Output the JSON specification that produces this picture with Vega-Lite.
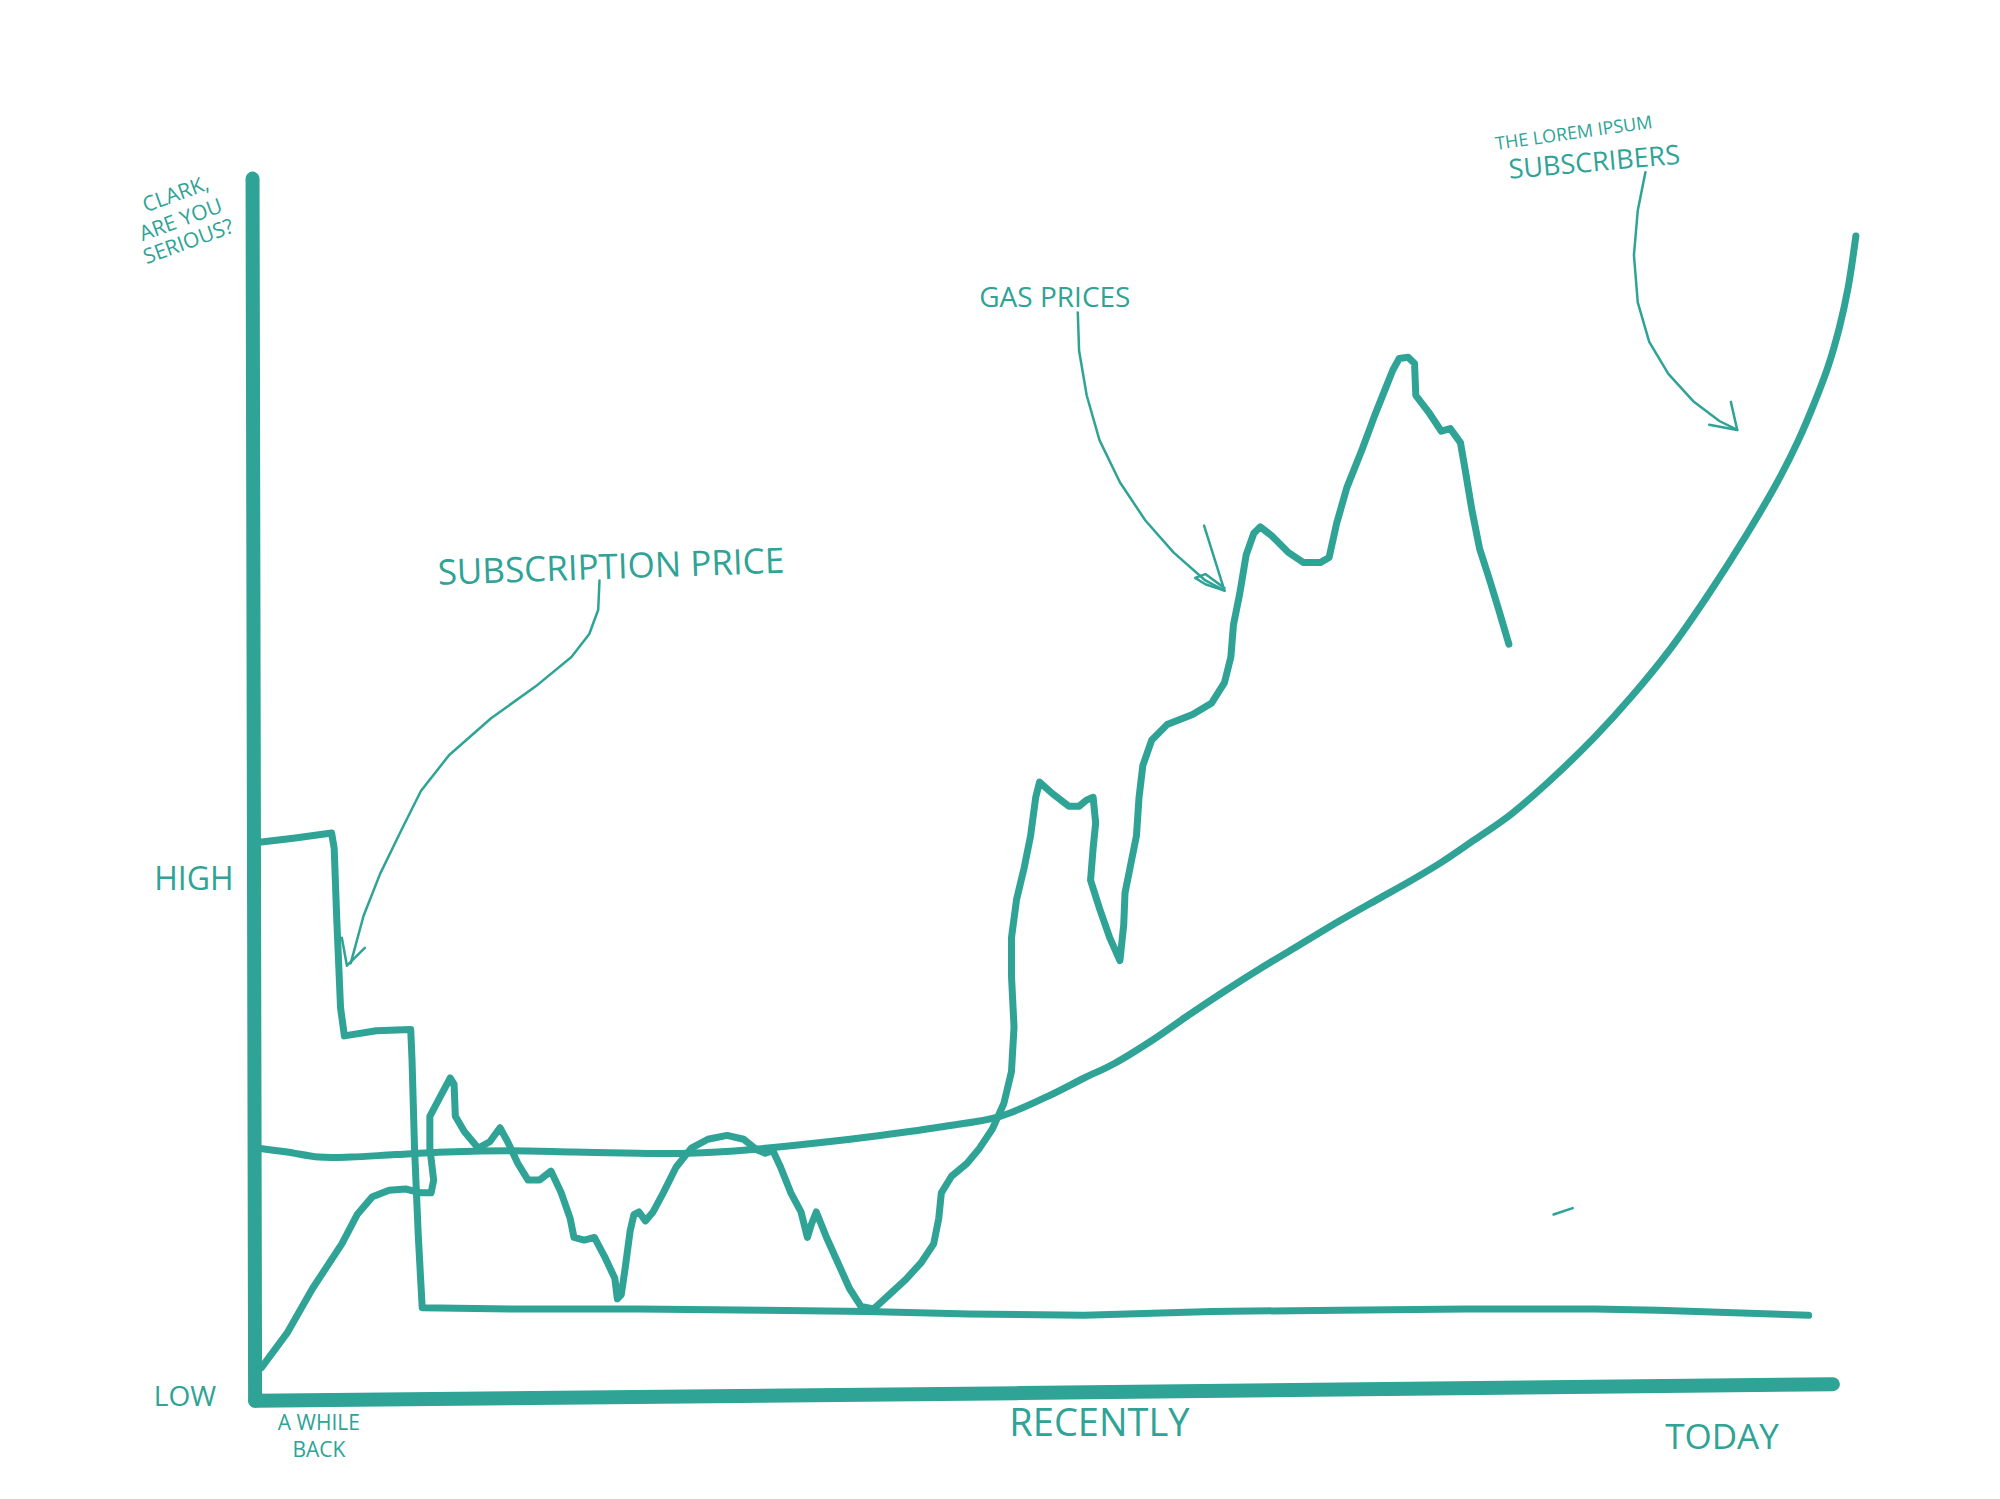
{
  "$schema": "https://vega.github.io/schema/vega-lite/v6.json",
  "width": 2000,
  "height": 1499,
  "padding": 0,
  "autosize": {"type": "none"},
  "background": "white",
  "config": {"view": {"stroke": null}},
  "datasets": {
    "axes": [
      {"s": "yaxis", "t": -2, "v": 960},
      {"s": "yaxis", "t": 0, "v": 2},
      {"s": "xaxis", "t": 0, "v": 2},
      {"s": "xaxis", "t": 600, "v": 8},
      {"s": "xaxis", "t": 1237, "v": 15}
    ],
    "subs": [
      {"s": "subs", "t": 3, "v": 200},
      {"s": "subs", "t": 25, "v": 197},
      {"s": "subs", "t": 50, "v": 193},
      {"s": "subs", "t": 75, "v": 193},
      {"s": "subs", "t": 110, "v": 195},
      {"s": "subs", "t": 150, "v": 197},
      {"s": "subs", "t": 200, "v": 198},
      {"s": "subs", "t": 250, "v": 197},
      {"s": "subs", "t": 300, "v": 196},
      {"s": "subs", "t": 340, "v": 196},
      {"s": "subs", "t": 390, "v": 199},
      {"s": "subs", "t": 440, "v": 204},
      {"s": "subs", "t": 490, "v": 210},
      {"s": "subs", "t": 540, "v": 217},
      {"s": "subs", "t": 584, "v": 225},
      {"s": "subs", "t": 620, "v": 240},
      {"s": "subs", "t": 650, "v": 255},
      {"s": "subs", "t": 673, "v": 266},
      {"s": "subs", "t": 704, "v": 285},
      {"s": "subs", "t": 730, "v": 303},
      {"s": "subs", "t": 760, "v": 323},
      {"s": "subs", "t": 790, "v": 342},
      {"s": "subs", "t": 820, "v": 360},
      {"s": "subs", "t": 850, "v": 378},
      {"s": "subs", "t": 880, "v": 395},
      {"s": "subs", "t": 905, "v": 409},
      {"s": "subs", "t": 930, "v": 424},
      {"s": "subs", "t": 955, "v": 441},
      {"s": "subs", "t": 985, "v": 462},
      {"s": "subs", "t": 1015, "v": 488},
      {"s": "subs", "t": 1050, "v": 522},
      {"s": "subs", "t": 1080, "v": 555},
      {"s": "subs", "t": 1110, "v": 592},
      {"s": "subs", "t": 1140, "v": 635},
      {"s": "subs", "t": 1170, "v": 682},
      {"s": "subs", "t": 1195, "v": 725},
      {"s": "subs", "t": 1210, "v": 755},
      {"s": "subs", "t": 1222, "v": 783},
      {"s": "subs", "t": 1233, "v": 812},
      {"s": "subs", "t": 1242, "v": 843},
      {"s": "subs", "t": 1249, "v": 875},
      {"s": "subs", "t": 1255, "v": 915}
    ],
    "series": [
      {"s": "price", "t": 5, "v": 440},
      {"s": "price", "t": 30, "v": 443},
      {"s": "price", "t": 60, "v": 447},
      {"s": "price", "t": 62, "v": 435},
      {"s": "price", "t": 64, "v": 380},
      {"s": "price", "t": 67, "v": 310},
      {"s": "price", "t": 70, "v": 288},
      {"s": "price", "t": 95, "v": 292},
      {"s": "price", "t": 122, "v": 293},
      {"s": "price", "t": 123, "v": 270},
      {"s": "price", "t": 125, "v": 200},
      {"s": "price", "t": 128, "v": 130},
      {"s": "price", "t": 131, "v": 75},
      {"s": "price", "t": 200, "v": 74},
      {"s": "price", "t": 300, "v": 74},
      {"s": "price", "t": 400, "v": 73},
      {"s": "price", "t": 480, "v": 72},
      {"s": "price", "t": 560, "v": 70},
      {"s": "price", "t": 650, "v": 69},
      {"s": "price", "t": 750, "v": 72},
      {"s": "price", "t": 850, "v": 73},
      {"s": "price", "t": 950, "v": 74},
      {"s": "price", "t": 1050, "v": 74},
      {"s": "price", "t": 1100, "v": 73},
      {"s": "price", "t": 1218, "v": 69},

      {"s": "gas", "t": 5, "v": 28},
      {"s": "gas", "t": 25, "v": 55},
      {"s": "gas", "t": 45, "v": 90},
      {"s": "gas", "t": 68, "v": 125},
      {"s": "gas", "t": 80, "v": 148},
      {"s": "gas", "t": 92, "v": 162},
      {"s": "gas", "t": 105, "v": 167},
      {"s": "gas", "t": 118, "v": 168},
      {"s": "gas", "t": 130, "v": 165},
      {"s": "gas", "t": 138, "v": 165},
      {"s": "gas", "t": 140, "v": 175},
      {"s": "gas", "t": 137, "v": 200},
      {"s": "gas", "t": 137, "v": 225},
      {"s": "gas", "t": 146, "v": 242},
      {"s": "gas", "t": 153, "v": 255},
      {"s": "gas", "t": 156, "v": 250},
      {"s": "gas", "t": 157, "v": 225},
      {"s": "gas", "t": 164, "v": 213},
      {"s": "gas", "t": 175, "v": 200},
      {"s": "gas", "t": 184, "v": 205},
      {"s": "gas", "t": 192, "v": 216},
      {"s": "gas", "t": 198, "v": 205},
      {"s": "gas", "t": 206, "v": 188},
      {"s": "gas", "t": 214, "v": 175},
      {"s": "gas", "t": 223, "v": 175},
      {"s": "gas", "t": 232, "v": 182},
      {"s": "gas", "t": 240, "v": 165},
      {"s": "gas", "t": 247, "v": 145},
      {"s": "gas", "t": 250, "v": 130},
      {"s": "gas", "t": 258, "v": 128},
      {"s": "gas", "t": 266, "v": 130},
      {"s": "gas", "t": 274, "v": 115},
      {"s": "gas", "t": 282, "v": 98},
      {"s": "gas", "t": 284, "v": 82},
      {"s": "gas", "t": 287, "v": 85},
      {"s": "gas", "t": 290, "v": 105},
      {"s": "gas", "t": 294, "v": 135},
      {"s": "gas", "t": 297, "v": 148},
      {"s": "gas", "t": 301, "v": 150},
      {"s": "gas", "t": 306, "v": 143},
      {"s": "gas", "t": 312, "v": 150},
      {"s": "gas", "t": 320, "v": 165},
      {"s": "gas", "t": 330, "v": 185},
      {"s": "gas", "t": 342, "v": 200},
      {"s": "gas", "t": 355, "v": 207},
      {"s": "gas", "t": 370, "v": 210},
      {"s": "gas", "t": 383, "v": 207},
      {"s": "gas", "t": 393, "v": 199},
      {"s": "gas", "t": 400, "v": 196},
      {"s": "gas", "t": 406, "v": 198},
      {"s": "gas", "t": 412, "v": 185},
      {"s": "gas", "t": 420, "v": 165},
      {"s": "gas", "t": 428, "v": 150},
      {"s": "gas", "t": 433, "v": 130},
      {"s": "gas", "t": 436, "v": 140},
      {"s": "gas", "t": 440, "v": 150},
      {"s": "gas", "t": 448, "v": 130},
      {"s": "gas", "t": 457, "v": 110},
      {"s": "gas", "t": 466, "v": 90},
      {"s": "gas", "t": 475, "v": 76},
      {"s": "gas", "t": 485, "v": 74},
      {"s": "gas", "t": 497, "v": 85},
      {"s": "gas", "t": 510, "v": 97},
      {"s": "gas", "t": 522, "v": 110},
      {"s": "gas", "t": 532, "v": 125},
      {"s": "gas", "t": 536, "v": 145},
      {"s": "gas", "t": 538, "v": 165},
      {"s": "gas", "t": 546, "v": 178},
      {"s": "gas", "t": 558, "v": 188},
      {"s": "gas", "t": 568, "v": 200},
      {"s": "gas", "t": 578, "v": 215},
      {"s": "gas", "t": 587, "v": 235},
      {"s": "gas", "t": 593, "v": 260},
      {"s": "gas", "t": 595, "v": 295},
      {"s": "gas", "t": 593, "v": 335},
      {"s": "gas", "t": 593, "v": 365},
      {"s": "gas", "t": 597, "v": 395},
      {"s": "gas", "t": 603, "v": 420},
      {"s": "gas", "t": 608, "v": 445},
      {"s": "gas", "t": 612, "v": 475},
      {"s": "gas", "t": 615, "v": 487},
      {"s": "gas", "t": 625, "v": 478},
      {"s": "gas", "t": 638, "v": 468},
      {"s": "gas", "t": 646, "v": 468},
      {"s": "gas", "t": 652, "v": 473},
      {"s": "gas", "t": 657, "v": 475},
      {"s": "gas", "t": 659, "v": 455},
      {"s": "gas", "t": 657, "v": 435},
      {"s": "gas", "t": 655, "v": 410},
      {"s": "gas", "t": 662, "v": 388},
      {"s": "gas", "t": 670, "v": 365},
      {"s": "gas", "t": 678, "v": 347},
      {"s": "gas", "t": 681, "v": 375},
      {"s": "gas", "t": 682, "v": 400},
      {"s": "gas", "t": 687, "v": 425},
      {"s": "gas", "t": 691, "v": 445},
      {"s": "gas", "t": 693, "v": 475},
      {"s": "gas", "t": 696, "v": 500},
      {"s": "gas", "t": 703, "v": 520},
      {"s": "gas", "t": 715, "v": 532},
      {"s": "gas", "t": 735, "v": 540},
      {"s": "gas", "t": 750, "v": 549},
      {"s": "gas", "t": 760, "v": 565},
      {"s": "gas", "t": 765, "v": 585},
      {"s": "gas", "t": 767, "v": 610},
      {"s": "gas", "t": 772, "v": 635},
      {"s": "gas", "t": 777, "v": 665},
      {"s": "gas", "t": 783, "v": 682},
      {"s": "gas", "t": 788, "v": 687},
      {"s": "gas", "t": 797, "v": 680},
      {"s": "gas", "t": 810, "v": 667},
      {"s": "gas", "t": 822, "v": 659},
      {"s": "gas", "t": 835, "v": 659},
      {"s": "gas", "t": 842, "v": 663},
      {"s": "gas", "t": 848, "v": 690},
      {"s": "gas", "t": 856, "v": 718},
      {"s": "gas", "t": 868, "v": 748},
      {"s": "gas", "t": 878, "v": 775},
      {"s": "gas", "t": 886, "v": 795},
      {"s": "gas", "t": 892, "v": 810},
      {"s": "gas", "t": 897, "v": 819},
      {"s": "gas", "t": 904, "v": 820},
      {"s": "gas", "t": 909, "v": 815},
      {"s": "gas", "t": 910, "v": 790},
      {"s": "gas", "t": 920, "v": 777},
      {"s": "gas", "t": 930, "v": 762},
      {"s": "gas", "t": 937, "v": 764},
      {"s": "gas", "t": 945, "v": 753},
      {"s": "gas", "t": 949, "v": 730},
      {"s": "gas", "t": 954, "v": 700},
      {"s": "gas", "t": 960, "v": 670},
      {"s": "gas", "t": 968, "v": 645},
      {"s": "gas", "t": 975, "v": 622},
      {"s": "gas", "t": 983, "v": 595}
    ],
    "arrows": [
      {"s": "a1", "t": 270, "v": 645},
      {"s": "a1", "t": 269, "v": 622},
      {"s": "a1", "t": 262, "v": 603},
      {"s": "a1", "t": 248, "v": 585},
      {"s": "a1", "t": 220, "v": 562},
      {"s": "a1", "t": 185, "v": 537},
      {"s": "a1", "t": 152, "v": 508},
      {"s": "a1", "t": 130, "v": 480},
      {"s": "a1", "t": 115, "v": 450},
      {"s": "a1", "t": 98, "v": 415},
      {"s": "a1", "t": 85, "v": 382},
      {"s": "a1", "t": 75, "v": 345},
      {"s": "a1h", "t": 68, "v": 365},
      {"s": "a1h", "t": 72, "v": 343},
      {"s": "a1h", "t": 86, "v": 357},
      {"s": "a2", "t": 645, "v": 855},
      {"s": "a2", "t": 646, "v": 825},
      {"s": "a2", "t": 652, "v": 790},
      {"s": "a2", "t": 662, "v": 755},
      {"s": "a2", "t": 678, "v": 722},
      {"s": "a2", "t": 698, "v": 692},
      {"s": "a2", "t": 720, "v": 667},
      {"s": "a2", "t": 745, "v": 645},
      {"s": "a2", "t": 760, "v": 637},
      {"s": "a2h", "t": 744, "v": 688},
      {"s": "a2h", "t": 760, "v": 637},
      {"s": "a2h", "t": 745, "v": 642},
      {"s": "a2h", "t": 737, "v": 647},
      {"s": "a2h", "t": 745, "v": 650},
      {"s": "a2h", "t": 760, "v": 639},
      {"s": "a3", "t": 1090, "v": 965},
      {"s": "a3", "t": 1084, "v": 935},
      {"s": "a3", "t": 1081, "v": 900},
      {"s": "a3", "t": 1084, "v": 863},
      {"s": "a3", "t": 1093, "v": 832},
      {"s": "a3", "t": 1108, "v": 807},
      {"s": "a3", "t": 1128, "v": 785},
      {"s": "a3", "t": 1148, "v": 770},
      {"s": "a3", "t": 1162, "v": 763},
      {"s": "a3h", "t": 1140, "v": 767},
      {"s": "a3h", "t": 1162, "v": 763},
      {"s": "a3h", "t": 1157, "v": 785},
      {"s": "mark", "t": 1018, "v": 148},
      {"s": "mark", "t": 1033, "v": 153}
    ]
  },
  "layer": [
    {
      "data": {"name": "axes"},
      "mark": {"type": "line", "color": "#2ea396", "strokeWidth": 14, "strokeCap": "round", "strokeJoin": "round"},
      "encoding": {
        "x": {"field": "t", "type": "quantitative", "scale": {"domain": [-200, 1368], "nice": false, "zero": false}, "axis": null},
        "y": {"field": "v", "type": "quantitative", "scale": {"domain": [-75, 1100], "nice": false, "zero": false}, "axis": null},
        "detail": {"field": "s"},
        "order": {"value": null}
      }
    },
    {
      "data": {"name": "series"},
      "mark": {"type": "line", "color": "#2ea396", "strokeWidth": 7, "strokeCap": "round", "strokeJoin": "round"},
      "encoding": {
        "x": {"field": "t", "type": "quantitative"},
        "y": {"field": "v", "type": "quantitative"},
        "detail": {"field": "s"},
        "order": {"value": null}
      }
    },
    {
      "data": {"name": "subs"},
      "mark": {"type": "line", "color": "#2ea396", "strokeWidth": 7, "strokeCap": "round", "strokeJoin": "round", "interpolate": "catmull-rom"},
      "encoding": {
        "x": {"field": "t", "type": "quantitative"},
        "y": {"field": "v", "type": "quantitative"},
        "detail": {"field": "s"},
        "order": {"value": null}
      }
    },
    {
      "data": {"name": "arrows"},
      "mark": {"type": "line", "color": "#2ea396", "strokeWidth": 2.5, "strokeCap": "round", "strokeJoin": "round"},
      "encoding": {
        "x": {"field": "t", "type": "quantitative"},
        "y": {"field": "v", "type": "quantitative"},
        "detail": {"field": "s"},
        "order": {"value": null}
      }
    },
    {
      "data": {"values": [{"t": 279, "v": 655, "label": "SUBSCRIPTION PRICE"}]},
      "mark": {"type": "text", "color": "#2ea396", "font": "Open Sans", "fontSize": 35, "angle": -2, "align": "center", "baseline": "middle"},
      "encoding": {"x": {"field": "t", "type": "quantitative"}, "y": {"field": "v", "type": "quantitative"}, "text": {"field": "label"}}
    },
    {
      "data": {"values": [{"t": 627, "v": 866, "label": "GAS PRICES"}]},
      "mark": {"type": "text", "color": "#2ea396", "font": "Open Sans", "fontSize": 28, "angle": 0, "align": "center", "baseline": "middle"},
      "encoding": {"x": {"field": "t", "type": "quantitative"}, "y": {"field": "v", "type": "quantitative"}, "text": {"field": "label"}}
    },
    {
      "data": {"values": [{"t": 1034, "v": 995, "label": "THE LOREM IPSUM"}]},
      "mark": {"type": "text", "color": "#2ea396", "font": "Open Sans", "fontSize": 18, "angle": -8, "align": "center", "baseline": "middle"},
      "encoding": {"x": {"field": "t", "type": "quantitative"}, "y": {"field": "v", "type": "quantitative"}, "text": {"field": "label"}}
    },
    {
      "data": {"values": [{"t": 1050, "v": 972, "label": "SUBSCRIBERS"}]},
      "mark": {"type": "text", "color": "#2ea396", "font": "Open Sans", "fontSize": 27, "angle": -5, "align": "center", "baseline": "middle"},
      "encoding": {"x": {"field": "t", "type": "quantitative"}, "y": {"field": "v", "type": "quantitative"}, "text": {"field": "label"}}
    },
    {
      "data": {"values": [
        {"t": -62, "v": 947, "label": "CLARK,"},
        {"t": -58, "v": 927, "label": "ARE YOU"},
        {"t": -52, "v": 910, "label": "SERIOUS?"}
      ]},
      "mark": {"type": "text", "color": "#2ea396", "font": "Open Sans", "fontSize": 21, "angle": -20, "align": "center", "baseline": "middle"},
      "encoding": {"x": {"field": "t", "type": "quantitative"}, "y": {"field": "v", "type": "quantitative"}, "text": {"field": "label"}}
    },
    {
      "data": {"values": [
        {"t": -48, "v": 410, "label": "HIGH"}
      ]},
      "mark": {"type": "text", "color": "#2ea396", "font": "Open Sans", "fontSize": 32, "align": "center", "baseline": "middle"},
      "encoding": {"x": {"field": "t", "type": "quantitative"}, "y": {"field": "v", "type": "quantitative"}, "text": {"field": "label"}}
    },
    {
      "data": {"values": [
        {"t": -55, "v": 4, "label": "LOW"}
      ]},
      "mark": {"type": "text", "color": "#2ea396", "font": "Open Sans", "fontSize": 28, "align": "center", "baseline": "middle"},
      "encoding": {"x": {"field": "t", "type": "quantitative"}, "y": {"field": "v", "type": "quantitative"}, "text": {"field": "label"}}
    },
    {
      "data": {"values": [
        {"t": 50, "v": -16, "label": "A WHILE"},
        {"t": 50, "v": -37, "label": "BACK"}
      ]},
      "mark": {"type": "text", "color": "#2ea396", "font": "Open Sans", "fontSize": 21, "align": "center", "baseline": "middle"},
      "encoding": {"x": {"field": "t", "type": "quantitative"}, "y": {"field": "v", "type": "quantitative"}, "text": {"field": "label"}}
    },
    {
      "data": {"values": [
        {"t": 662, "v": -17, "label": "RECENTLY"}
      ]},
      "mark": {"type": "text", "color": "#2ea396", "font": "Open Sans", "fontSize": 38, "align": "center", "baseline": "middle"},
      "encoding": {"x": {"field": "t", "type": "quantitative"}, "y": {"field": "v", "type": "quantitative"}, "text": {"field": "label"}}
    },
    {
      "data": {"values": [
        {"t": 1150, "v": -27, "label": "TODAY"}
      ]},
      "mark": {"type": "text", "color": "#2ea396", "font": "Open Sans", "fontSize": 35, "align": "center", "baseline": "middle"},
      "encoding": {"x": {"field": "t", "type": "quantitative"}, "y": {"field": "v", "type": "quantitative"}, "text": {"field": "label"}}
    }
  ]
}
